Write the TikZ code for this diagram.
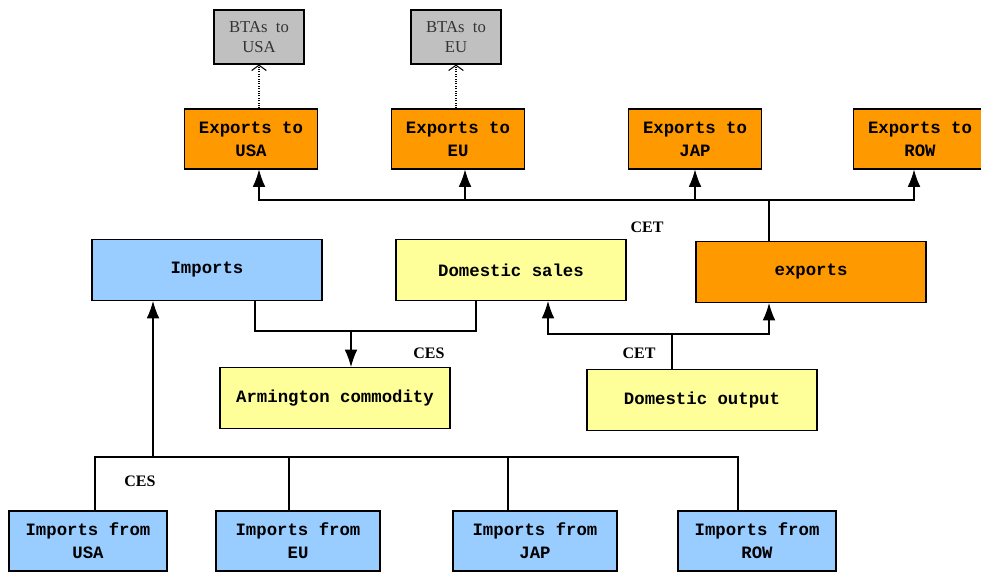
\documentclass[tikz,border=0pt]{standalone}
\usepackage{fontspec}
\setmainfont{Liberation Serif}
\newfontfamily\boxfont{Liberation Mono}
\usepackage{xcolor}
\usetikzlibrary{arrows.meta,positioning}

\definecolor{exorange}{HTML}{FF9900}
\definecolor{imblue}{HTML}{99CCFF}
\definecolor{dyellow}{HTML}{FFFF99}
\definecolor{btagrey}{HTML}{C0C0C0}

\begin{document}
\begin{tikzpicture}[
			x=0.75pt, y=-0.75pt,
			b/.style={rectangle, draw, line width=0.8pt, align=center, inner sep=0pt,
				font=\boxfont\bfseries\fontsize{13}{17}\selectfont, minimum height=45pt},
			ex/.style={b, fill=exorange, minimum width=100pt},
			big/.style={b, minimum width=172.5pt, minimum height=45.75pt},
			imf/.style={b, fill=imblue, minimum width=118.5pt},
			bta/.style={b, fill=btagrey, minimum width=67.5pt, minimum height=40.5pt,
				font=\fontsize{12.5}{15}\selectfont, text=black!80},
			lab/.style={font=\fontsize{12}{14}\selectfont\bfseries},
			arr/.style={-{Latex[length=13pt,width=9.5pt]}},
			dot/.style={densely dotted, -{Straight Barb[length=4pt,width=11pt]}},
			line width=0.8pt
			]
			\useasboundingbox (0,0) rectangle (981,571);
			
			% top row
			\node[bta] (btausa) at (259,37) {BTAs~ to\\USA};
			\node[bta] (btaeu) at (456,37) {BTAs~ to\\EU};
			\node[ex] (exusa) at (251,139) {Exports to\\USA};
			\node[ex] (exeu) at (458,139) {Exports to\\EU};
			\node[ex] (exjap) at (695,139) {Exports to\\JAP};
			\node[ex] (exrow) at (920,139) {Exports to\\ROW};
			
			% middle
			\node[big, fill=imblue] (imp) at (207,270) {Imports};
			\node[big, fill=dyellow] (dsales) at (511,270) {Domestic sales};
			\node[big, fill=exorange] (exps) at (811,272) {exports};
			\node[big, fill=dyellow] (arm) at (335,398) {Armington commodity};
			\node[big, fill=dyellow] (dout) at (702,400) {Domestic output};
			
			% bottom row
			\node[imf] (imusa) at (88,541) {Imports from\\USA};
			\node[imf, minimum width=123pt] (imeu) at (298,541) {Imports from\\EU};
			\node[imf, minimum width=123pt] (imjap) at (535,541) {Imports from\\JAP};
			\node[imf] (imrow) at (757,541) {Imports from\\ROW};
			
			% nest labels
			\node[lab] (cetex) at (647,227) {CET};
			\node[lab] (cesarm) at (429,353) {CES};
			\node[lab] (cetdom) at (639,353) {CET};
			\node[lab] (cesimp) at (140,481) {CES};
			
			% junctions
			\coordinate (etj) at (769,200);
			\coordinate (cesj) at (351,331);
			\coordinate (cetj) at (672,334);
			\coordinate (imj) at (153,457);
			
			% BTAs
			\draw[dot] (btausa.south |- exusa.north) -- (btausa.south);
			\draw[dot] (btaeu.south |- exeu.north) -- (btaeu.south);
			
			% exports by destination
			\draw (etj |- exps.north) -- (etj);
			\draw[arr] (etj) -| ([xshift=6pt]exusa.south);
			\draw[arr] (etj) -| ([xshift=5.25pt]exeu.south);
			\draw[arr] (etj) -| (exjap.south);
			\draw[arr] (etj) -| ([xshift=-4.5pt]exrow.south);
			
			% Armington
			\draw ([xshift=36pt]imp.south) |- (cesj) -| ([xshift=-26.25pt]dsales.south);
			\draw[arr] (cesj) -- (cesj |- arm.north);
			
			% domestic output
			\draw (cetj |- dout.north) -- (cetj);
			\draw[arr] (cetj) -| ([xshift=27.75pt]dsales.south);
			\draw[arr] (cetj) -| ([xshift=-31.5pt]exps.south);
			
			% imports by origin
			\draw[arr] (imj) -- (imj |- imp.south);
			\draw ([xshift=5.25pt]imusa.north) |- (imj) -| ([xshift=-14.25pt]imrow.north);
			\draw ([xshift=-6.75pt]imeu.north) -- ([xshift=-6.75pt]imeu.north |- imj);
			\draw ([xshift=-20.25pt]imjap.north) -- ([xshift=-20.25pt]imjap.north |- imj);
			
		\end{tikzpicture}
\end{document}
